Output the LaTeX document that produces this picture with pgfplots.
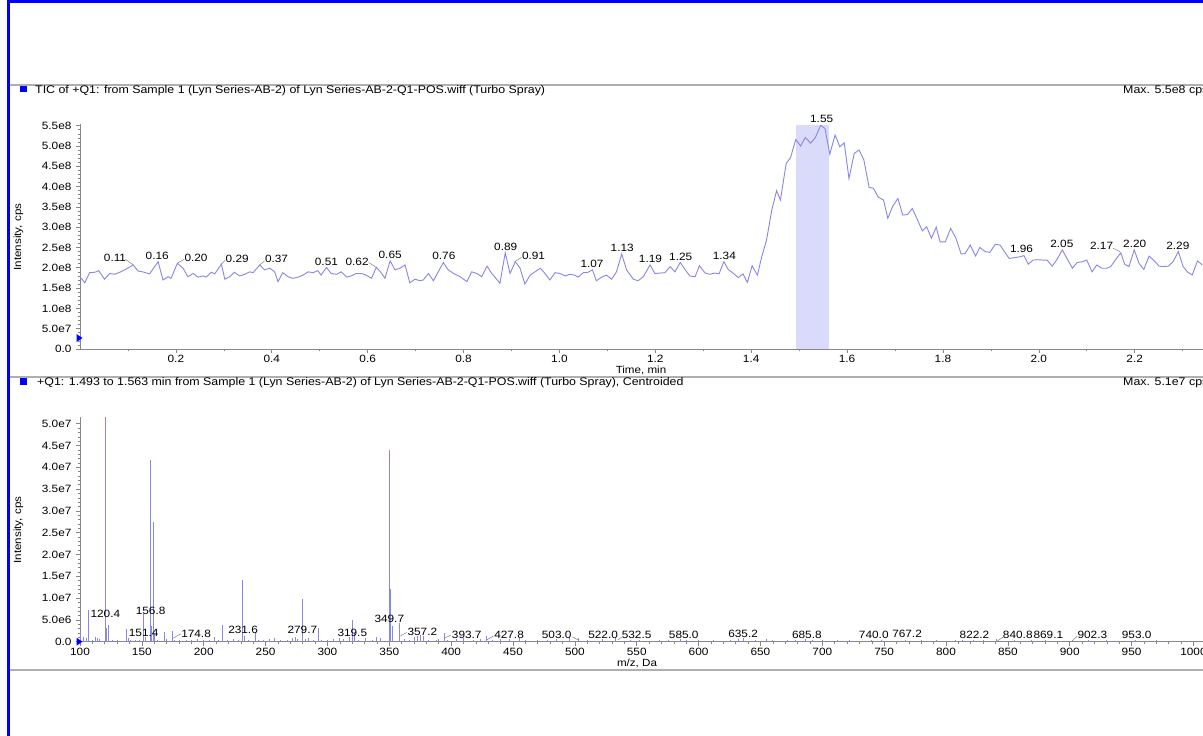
\documentclass[border=0pt]{standalone}
\usepackage{fontspec}
\setmainfont{Liberation Sans}[FakeStretch=1.12]
\usepackage{pgfplots}
\pgfplotsset{compat=1.18}
\definecolor{trace}{RGB}{135,135,230}
\definecolor{hilite}{RGB}{218,218,250}
\definecolor{axgray}{RGB}{135,135,135}
\definecolor{framegray}{RGB}{175,175,175}
\newcommand{\lbl}{\fontsize{10.6}{12}\selectfont}
\newcommand{\ttl}{\fontsize{11.1}{13}\selectfont}
\newcommand{\axl}{\fontsize{10.4}{12}\selectfont}

\pgfplotstableread{
t v
0.000 1.78
0.010 1.63
0.020 1.88
0.031 1.89
0.039 1.93
0.051 1.72
0.062 1.86
0.072 1.84
0.085 1.90
0.098 1.98
0.111 2.07
0.121 1.92
0.131 1.90
0.145 1.85
0.163 2.15
0.173 1.70
0.184 1.78
0.190 1.74
0.203 2.11
0.215 1.99
0.225 1.78
0.236 1.86
0.246 1.77
0.257 1.80
0.263 1.77
0.274 1.89
0.281 1.85
0.295 2.09
0.302 1.72
0.312 1.78
0.322 1.89
0.333 1.80
0.344 1.84
0.354 1.90
0.361 1.88
0.375 2.07
0.385 1.95
0.396 1.99
0.406 1.90
0.413 1.66
0.423 1.88
0.434 1.78
0.444 1.74
0.455 1.77
0.465 1.82
0.476 1.90
0.486 1.88
0.496 1.93
0.503 1.82
0.514 2.01
0.524 1.86
0.535 1.84
0.545 1.90
0.556 1.77
0.566 1.80
0.576 1.86
0.587 1.86
0.597 1.82
0.608 1.74
0.618 2.01
0.627 1.90
0.636 1.74
0.647 2.17
0.657 1.95
0.668 1.99
0.678 2.07
0.688 1.63
0.699 1.72
0.709 1.68
0.716 1.70
0.727 1.86
0.737 1.68
0.758 2.13
0.768 1.95
0.779 1.86
0.793 1.78
0.807 1.66
0.817 1.90
0.828 1.86
0.838 1.78
0.849 2.04
0.859 1.86
0.876 1.62
0.887 2.37
0.897 1.86
0.908 2.15
0.918 1.99
0.928 1.60
0.939 1.82
0.949 1.90
0.960 1.99
0.970 1.86
0.980 1.70
0.991 1.88
1.001 1.86
1.012 1.80
1.022 1.84
1.032 1.82
1.039 1.77
1.050 1.88
1.060 1.89
1.069 1.95
1.077 1.68
1.088 1.77
1.098 1.82
1.109 1.72
1.119 1.90
1.130 2.34
1.140 1.95
1.154 1.72
1.164 1.68
1.175 1.78
1.189 2.07
1.199 1.86
1.210 1.87
1.220 1.88
1.231 2.03
1.241 1.90
1.252 2.13
1.262 1.96
1.272 1.80
1.283 1.78
1.292 2.05
1.304 1.87
1.314 1.84
1.324 1.87
1.333 1.85
1.343 2.15
1.352 1.96
1.362 1.87
1.373 1.76
1.383 1.85
1.392 1.64
1.402 2.05
1.413 1.82
1.422 2.27
1.432 2.68
1.443 3.42
1.453 3.90
1.461 3.67
1.473 4.57
1.482 4.71
1.493 5.16
1.503 5.00
1.513 5.21
1.524 5.07
1.534 5.21
1.545 5.51
1.554 5.43
1.564 4.80
1.575 5.27
1.585 4.98
1.594 5.08
1.604 4.20
1.615 4.82
1.625 4.90
1.635 4.66
1.646 3.98
1.655 3.96
1.665 3.74
1.676 3.67
1.685 3.22
1.695 3.51
1.706 3.71
1.716 3.30
1.726 3.31
1.736 3.46
1.747 3.18
1.757 2.91
1.766 3.01
1.776 2.73
1.786 3.00
1.794 2.64
1.805 2.64
1.816 2.97
1.827 2.73
1.838 2.34
1.846 2.35
1.857 2.56
1.868 2.29
1.877 2.50
1.888 2.40
1.898 2.38
1.909 2.58
1.919 2.56
1.927 2.42
1.938 2.23
1.950 2.25
1.960 2.27
1.969 2.30
1.978 2.09
1.988 2.19
1.998 2.20
2.009 2.19
2.017 2.19
2.028 2.04
2.037 2.19
2.049 2.44
2.060 2.20
2.070 1.99
2.080 2.13
2.091 2.15
2.100 2.19
2.111 1.90
2.121 2.07
2.131 1.99
2.142 1.99
2.150 2.03
2.160 2.20
2.171 2.37
2.179 2.09
2.188 2.03
2.199 2.44
2.209 2.11
2.219 1.96
2.230 2.29
2.240 2.18
2.251 2.04
2.259 2.03
2.270 2.04
2.280 2.15
2.291 2.40
2.301 2.03
2.310 1.90
2.320 1.82
2.331 2.17
2.341 2.07
}\tic

\pgfplotstableread{
mz i
100.6 0.23
102.5 0.10
105.0 0.08
106.5 0.73
110.0 0.05
112.5 0.10
114.0 0.08
116.0 0.06
120.5 5.15
121.6 0.31
123.2 0.38
126.0 0.05
130.0 0.04
137.5 0.28
139.0 0.08
141.0 0.05
145.0 0.04
148.0 0.05
151.5 0.64
153.0 0.10
157.1 4.17
158.0 0.35
159.3 2.74
160.5 0.20
163.0 0.05
167.9 0.23
170.0 0.06
174.6 0.24
176.0 0.05
180.0 0.04
186.0 0.05
190.0 0.04
195.0 0.06
200.0 0.04
205.0 0.05
208.3 0.10
212.0 0.04
214.8 0.38
219.0 0.05
224.0 0.06
228.0 0.05
231.5 1.42
233.0 0.12
236.0 0.05
241.7 0.23
244.0 0.05
248.0 0.04
253.0 0.06
257.0 0.08
262.0 0.05
268.0 0.05
272.0 0.08
274.0 0.10
276.0 0.07
280.0 0.98
282.0 0.06
285.0 0.08
289.0 0.05
292.4 0.31
295.0 0.05
300.0 0.04
305.0 0.06
310.0 0.08
313.0 0.06
318.0 0.10
320.1 0.50
321.5 0.20
325.0 0.05
331.0 0.08
336.0 0.05
340.0 0.10
343.0 0.08
350.0 4.40
351.2 1.20
352.5 0.35
358.1 0.44
362.0 0.06
366.0 0.05
370.0 0.10
373.0 0.14
375.0 0.16
378.0 0.12
382.0 0.05
388.0 0.04
390.0 0.06
394.5 0.19
397.0 0.05
404.0 0.06
410.0 0.08
418.0 0.04
424.0 0.06
428.8 0.13
433.0 0.05
440.0 0.06
447.0 0.07
455.0 0.08
460.0 0.05
470.0 0.04
478.0 0.05
485.0 0.06
496.0 0.10
503.0 0.08
510.0 0.04
522.0 0.06
533.0 0.08
545.0 0.04
552.0 0.05
568.0 0.04
576.0 0.05
585.0 0.06
590.0 0.04
600.0 0.05
612.0 0.03
626.0 0.04
632.0 0.06
636.0 0.08
646.0 0.04
655.0 0.06
660.0 0.05
672.0 0.04
678.0 0.05
686.0 0.06
692.0 0.04
700.0 0.03
712.0 0.04
722.0 0.05
740.0 0.04
748.0 0.03
767.0 0.05
780.0 0.03
792.0 0.04
808.0 0.05
813.0 0.04
822.0 0.04
830.0 0.03
841.0 0.06
855.0 0.03
869.0 0.04
880.0 0.03
902.0 0.04
915.0 0.03
930.0 0.03
953.0 0.03
970.0 0.03
985.0 0.02
}\spec

\pgfplotsset{
  chrom/.style={
    scale only axis, clip=false,
    axis x line*=bottom, axis y line*=left,
    axis line style={axgray, line width=0.8bp},
    tick style={axgray, line width=0.6bp},
    tick align=outside,
    major tick length=4bp, minor tick length=2.5bp,
    ticklabel style={font=\lbl, text=black},
    yticklabel style={xshift=-1bp},
    xticklabel style={yshift=1bp},
  }
}

\begin{document}
\begin{tikzpicture}[x=1bp,y=1bp]
\clip (0,0) rectangle (1203,736);
\fill[white] (0,0) rectangle (1203,736);
% blue outer frame
\draw[blue, line width=3bp] (8,-10) -- (8,734.5) -- (1230,734.5);
% panel separators
\draw[framegray, line width=1.3bp] (10,651) -- (1210,651);
\draw[framegray, line width=1.3bp] (10,359) -- (1210,359);
\draw[framegray, line width=1.3bp] (10,66) -- (1210,66);
% panel headers
\fill[blue] (19.5,643.5) rectangle (26.5,650);
\node[anchor=west, inner sep=0, font=\ttl] at (35,645.5) {TIC of +Q1: from Sample 1 (Lyn Series-AB-2) of Lyn Series-AB-2-Q1-POS.wiff (Turbo Spray)};
\node[anchor=west, inner sep=0, font=\ttl] at (1123,645.5) {Max. 5.5e8 cps};
\fill[blue] (19.5,351) rectangle (26.5,357.5);
\node[anchor=west, inner sep=0, font=\ttl] at (37,353.5) {+Q1: 1.493 to 1.563 min from Sample 1 (Lyn Series-AB-2) of Lyn Series-AB-2-Q1-POS.wiff (Turbo Spray), Centroided};
\node[anchor=west, inner sep=0, font=\ttl] at (1123,353.5) {Max. 5.1e7 cps};
% axis titles
\node[rotate=90, font=\axl] at (18.5,499) {Intensity, cps};
\node[font=\axl] at (641,366) {Time, min};
\node[rotate=90, font=\axl] at (18.5,206) {Intensity, cps};
\node[font=\axl] at (637,73) {m/z, Da};

% ---------------- TIC ----------------
\begin{axis}[chrom,
  at={(80bp,387bp)}, anchor=south west,
  width=1123bp, height=225.3bp,
  xmin=0, xmax=2.3425, ymin=0, ymax=5.55,
  xtick={0.2,0.4,0.6,0.8,1.0,1.2,1.4,1.6,1.8,2.0,2.2},
  xticklabels={0.2,0.4,0.6,0.8,1.0,1.2,1.4,1.6,1.8,2.0,2.2},
  minor xtick={0.1,0.3,0.5,0.7,0.9,1.1,1.3,1.5,1.7,1.9,2.1,2.3},
  ytick={0,0.5,1,1.5,2,2.5,3,3.5,4,4.5,5,5.5},
  yticklabels={0.0,5.0e7,1.0e8,1.5e8,2.0e8,2.5e8,3.0e8,3.5e8,4.0e8,4.5e8,5.0e8,5.5e8},
  minor y tick num=4,
]
\addplot[fill=hilite, draw=none] coordinates {(1.493,0) (1.493,5.52) (1.563,5.52) (1.563,0)} --cycle;
\addplot[trace, line width=0.9bp, mark=none] table[x=t,y=v] {\tic};
\coordinate (triA) at (axis cs:0,0.27);
\begin{scope}[every node/.style={font=\lbl, inner sep=0}]
\node at (axis cs:0.073,2.25) {0.11};
\node at (axis cs:0.161,2.29) {0.16};
\node at (axis cs:0.242,2.25) {0.20};
\node at (axis cs:0.328,2.23) {0.29};
\node at (axis cs:0.410,2.22) {0.37};
\node at (axis cs:0.514,2.15) {0.51};
\node at (axis cs:0.578,2.14) {0.62};
\node at (axis cs:0.647,2.32) {0.65};
\node at (axis cs:0.759,2.29) {0.76};
\node at (axis cs:0.888,2.52) {0.89};
\node at (axis cs:0.946,2.29) {0.91};
\node at (axis cs:1.068,2.09) {1.07};
\node at (axis cs:1.131,2.50) {1.13};
\node at (axis cs:1.190,2.23) {1.19};
\node at (axis cs:1.253,2.27) {1.25};
\node at (axis cs:1.344,2.30) {1.34};
\node at (axis cs:1.547,5.67) {1.55};
\node at (axis cs:1.964,2.46) {1.96};
\node at (axis cs:2.048,2.59) {2.05};
\node at (axis cs:2.131,2.54) {2.17};
\node at (axis cs:2.200,2.59) {2.20};
\node at (axis cs:2.290,2.55) {2.29};
\end{scope}
\begin{scope}[gray, line width=0.5bp]
\draw (axis cs:0.095,2.21) -- (axis cs:0.111,2.07);
\draw (axis cs:0.203,2.11) -- (axis cs:0.217,2.21);
\draw (axis cs:0.295,2.09) -- (axis cs:0.303,2.19);
\draw (axis cs:0.375,2.07) -- (axis cs:0.385,2.17);
\draw (axis cs:0.602,2.13) -- (axis cs:0.618,2.01);
\draw (axis cs:0.907,2.15) -- (axis cs:0.921,2.26);
\draw (axis cs:2.155,2.48) -- (axis cs:2.169,2.40);
\end{scope}
\end{axis}
\fill[blue] (triA) ++(-3.5,4) -- ++(0,-8) -- ++(6,4) -- cycle;

% ---------------- Spectrum ----------------
\begin{axis}[chrom,
  at={(80bp,94.3bp)}, anchor=south west,
  width=1123bp, height=224.5bp,
  xmin=100, xmax=1007.8, ymin=0, ymax=5.15,
  xtick={100,150,200,250,300,350,400,450,500,550,600,650,700,750,800,850,900,950,1000},
  xticklabels={100,150,200,250,300,350,400,450,500,550,600,650,700,750,800,850,900,950,1000},
  minor x tick num=4,
  ytick={0,0.5,1,1.5,2,2.5,3,3.5,4,4.5,5},
  yticklabels={0.0,5.0e6,1.0e7,1.5e7,2.0e7,2.5e7,3.0e7,3.5e7,4.0e7,4.5e7,5.0e7},
  minor y tick num=4,
]
\addplot[ycomb, trace, line width=0.9bp, mark=none] table[x=mz,y=i] {\spec};
\coordinate (triB) at (axis cs:100,0);
\begin{scope}[every node/.style={font=\lbl, inner sep=0}]
\node at (axis cs:120.5,0.64) {120.4};
\node at (axis cs:157.1,0.71) {156.8};
\node at (axis cs:151.5,0.21) {151.4};
\node at (axis cs:193.8,0.18) {174.8};
\node at (axis cs:231.8,0.27) {231.6};
\node at (axis cs:279.7,0.26) {279.7};
\node at (axis cs:320.1,0.21) {319.5};
\node at (axis cs:350.0,0.52) {349.7};
\node at (axis cs:376.7,0.22) {357.2};
\node at (axis cs:412.6,0.16) {393.7};
\node at (axis cs:446.8,0.16) {427.8};
\node at (axis cs:485.3,0.16) {503.0};
\node at (axis cs:522.8,0.16) {522.0};
\node at (axis cs:549.9,0.16) {532.5};
\node at (axis cs:588.0,0.16) {585.0};
\node at (axis cs:636.0,0.19) {635.2};
\node at (axis cs:687.5,0.16) {685.8};
\node at (axis cs:741.6,0.16) {740.0};
\node at (axis cs:768.5,0.19) {767.2};
\node at (axis cs:823.0,0.16) {822.2};
\node at (axis cs:858.0,0.16) {840.8};
\node at (axis cs:882.7,0.16) {869.1};
\node at (axis cs:918.3,0.16) {902.3};
\node at (axis cs:954.1,0.16) {953.0};
\end{scope}
\begin{scope}[gray, line width=0.5bp]
\draw (axis cs:175.2,0.08) -- (axis cs:181.4,0.18);
\draw (axis cs:358.7,0.13) -- (axis cs:364.1,0.21);
\draw (axis cs:394.5,0.08) -- (axis cs:399.7,0.15);
\draw (axis cs:428.8,0.04) -- (axis cs:434.1,0.13);
\draw (axis cs:498.0,0.11) -- (axis cs:502.8,0.04);
\draw (axis cs:534.6,0.04) -- (axis cs:537.8,0.10);
\draw (axis cs:841.6,0.02) -- (axis cs:847.4,0.13);
\draw (axis cs:902.0,0.02) -- (axis cs:906.1,0.13);
\end{scope}
\end{axis}
\fill[blue] (triB) ++(-3.5,4) -- ++(0,-8) -- ++(6,4) -- cycle;
\end{tikzpicture}
\end{document}
